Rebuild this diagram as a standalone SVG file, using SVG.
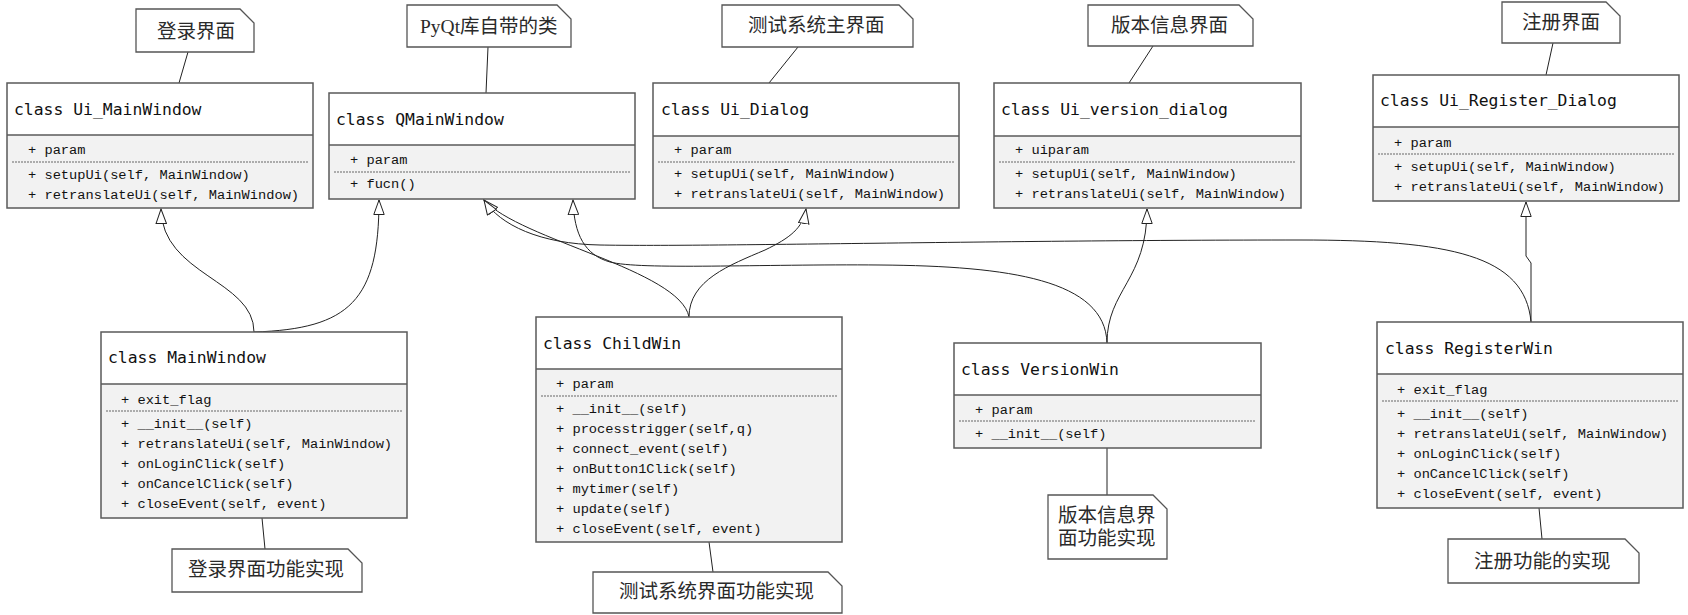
<svg xmlns="http://www.w3.org/2000/svg" width="1688" height="615" viewBox="0 0 1688 615">
<defs>
<marker id="gen" markerWidth="16" markerHeight="12" refX="15" refY="6" orient="auto" markerUnits="userSpaceOnUse" viewBox="0 0 16 12">
<path d="M0.5,0.8 L15,6 L0.5,11.2 Z" fill="#fff" stroke="#222" stroke-width="1"/>
</marker>
<style>
.hd{fill:#fff;stroke:none}
.bd{fill:#f2f2f2;stroke:none}
.fr{fill:none;stroke:#5a5a5a;stroke-width:1.5}
.dv{stroke:#5a5a5a;stroke-width:1.5}
.ds{stroke:#666;stroke-width:1;stroke-dasharray:2,1}
.tt{font-family:"DejaVu Sans Mono","Liberation Mono",monospace;font-size:16.4px;fill:#111}
.mb{font-family:"Liberation Mono","DejaVu Sans Mono",monospace;font-size:13.7px;fill:#111}
.nt{fill:#fff;stroke:#555;stroke-width:1.3}
.ntx{font-family:"Liberation Serif","Noto Sans CJK SC",serif;font-size:19.5px;fill:#2a2a2a}
.ln{fill:none;stroke:#222;stroke-width:1}
.gn{fill:none;stroke:#222;stroke-width:1;marker-end:url(#gen)}
</style>
</defs>
<rect width="1688" height="615" fill="#fff"/>

<g id="connectors">
<line class="ln" x1="188" y1="52" x2="179" y2="83"/>
<line class="ln" x1="488" y1="47" x2="486" y2="93"/>
<line class="ln" x1="798" y1="47" x2="769" y2="83"/>
<line class="ln" x1="1153" y1="46" x2="1129" y2="83"/>
<line class="ln" x1="1553" y1="43" x2="1546" y2="75"/>
<line class="ln" x1="262" y1="518" x2="265" y2="549"/>
<line class="ln" x1="709" y1="542" x2="713" y2="572"/>
<line class="ln" x1="1107" y1="448" x2="1107" y2="495"/>
<line class="ln" x1="1539" y1="508" x2="1542" y2="539"/>
<path class="gn" d="M254,332 C254,280 162,275 161,209"/>
<path class="gn" d="M254,332 C350,329 379,300 379,200"/>
<path class="gn" d="M689,317 C680,270 520,240 484,200"/>
<path class="gn" d="M1531,322 C1525,255 1450,240 1300,240 C1000,240 700,247 600,245 C540,244 500,225 484,200"/>
<path class="gn" d="M1107,343 C1105,280 1010,266 880,265 C760,264 640,270 610,262 C585,255 574,235 573,200"/>
<path class="gn" d="M689,317 C689,280 730,265 765,250 C790,238 803,228 806,209"/>
<path class="gn" d="M1107,343 C1107,290 1147,280 1147,209"/>
<path class="gn" d="M1531,322 L1531,263 L1526,256 L1526,202"/>
</g>

<g id="Ui_MainWindow">
<rect class="hd" x="7" y="83" width="306" height="52"/>
<rect class="bd" x="7" y="135" width="306" height="73"/>
<rect class="fr" x="7" y="83" width="306" height="125"/>
<line class="dv" x1="7" y1="135" x2="313" y2="135"/>
<line class="ds" x1="12" y1="162" x2="308" y2="162"/>
<text class="tt" x="14" y="115">class Ui_MainWindow</text>
<text class="mb" x="28" y="154">+ param</text>
<text class="mb" x="28" y="179">+ setupUi(self, MainWindow)</text>
<text class="mb" x="28" y="199">+ retranslateUi(self, MainWindow)</text>
</g>

<g id="QMainWindow">
<rect class="hd" x="329" y="93" width="306" height="52"/>
<rect class="bd" x="329" y="145" width="306" height="54"/>
<rect class="fr" x="329" y="93" width="306" height="106"/>
<line class="dv" x1="329" y1="145" x2="635" y2="145"/>
<line class="ds" x1="334" y1="172" x2="630" y2="172"/>
<text class="tt" x="336" y="125">class QMainWindow</text>
<text class="mb" x="350" y="164">+ param</text>
<text class="mb" x="350" y="188">+ fucn()</text>
</g>

<g id="Ui_Dialog">
<rect class="hd" x="653" y="83" width="306" height="53"/>
<rect class="bd" x="653" y="136" width="306" height="72"/>
<rect class="fr" x="653" y="83" width="306" height="125"/>
<line class="dv" x1="653" y1="136" x2="959" y2="136"/>
<line class="ds" x1="658" y1="162" x2="954" y2="162"/>
<text class="tt" x="661" y="115">class Ui_Dialog</text>
<text class="mb" x="674" y="154">+ param</text>
<text class="mb" x="674" y="178">+ setupUi(self, MainWindow)</text>
<text class="mb" x="674" y="198">+ retranslateUi(self, MainWindow)</text>
</g>

<g id="Ui_version_dialog">
<rect class="hd" x="994" y="83" width="307" height="53"/>
<rect class="bd" x="994" y="136" width="307" height="72"/>
<rect class="fr" x="994" y="83" width="307" height="125"/>
<line class="dv" x1="994" y1="136" x2="1301" y2="136"/>
<line class="ds" x1="999" y1="162" x2="1296" y2="162"/>
<text class="tt" x="1001" y="115">class Ui_version_dialog</text>
<text class="mb" x="1015" y="154">+ uiparam</text>
<text class="mb" x="1015" y="178">+ setupUi(self, MainWindow)</text>
<text class="mb" x="1015" y="198">+ retranslateUi(self, MainWindow)</text>
</g>

<g id="Ui_Register_Dialog">
<rect class="hd" x="1373" y="75" width="306" height="52"/>
<rect class="bd" x="1373" y="127" width="306" height="74"/>
<rect class="fr" x="1373" y="75" width="306" height="126"/>
<line class="dv" x1="1373" y1="127" x2="1679" y2="127"/>
<line class="ds" x1="1378" y1="154" x2="1674" y2="154"/>
<text class="tt" x="1380" y="106">class Ui_Register_Dialog</text>
<text class="mb" x="1394" y="147">+ param</text>
<text class="mb" x="1394" y="171">+ setupUi(self, MainWindow)</text>
<text class="mb" x="1394" y="191">+ retranslateUi(self, MainWindow)</text>
</g>

<g id="MainWindow">
<rect class="hd" x="101" y="332" width="306" height="52"/>
<rect class="bd" x="101" y="384" width="306" height="134"/>
<rect class="fr" x="101" y="332" width="306" height="186"/>
<line class="dv" x1="101" y1="384" x2="407" y2="384"/>
<line class="ds" x1="106" y1="411" x2="402" y2="411"/>
<text class="tt" x="108" y="363">class MainWindow</text>
<text class="mb" x="121" y="404">+ exit_flag</text>
<text class="mb" x="121" y="428">+ __init__(self)</text>
<text class="mb" x="121" y="448">+ retranslateUi(self, MainWindow)</text>
<text class="mb" x="121" y="468">+ onLoginClick(self)</text>
<text class="mb" x="121" y="488">+ onCancelClick(self)</text>
<text class="mb" x="121" y="508">+ closeEvent(self, event)</text>
</g>

<g id="ChildWin">
<rect class="hd" x="536" y="317" width="306" height="52"/>
<rect class="bd" x="536" y="369" width="306" height="173"/>
<rect class="fr" x="536" y="317" width="306" height="225"/>
<line class="dv" x1="536" y1="369" x2="842" y2="369"/>
<line class="ds" x1="541" y1="396" x2="837" y2="396"/>
<text class="tt" x="543" y="349">class ChildWin</text>
<text class="mb" x="556" y="388">+ param</text>
<text class="mb" x="556" y="413">+ __init__(self)</text>
<text class="mb" x="556" y="433">+ processtrigger(self,q)</text>
<text class="mb" x="556" y="453">+ connect_event(self)</text>
<text class="mb" x="556" y="473">+ onButton1Click(self)</text>
<text class="mb" x="556" y="493">+ mytimer(self)</text>
<text class="mb" x="556" y="513">+ update(self)</text>
<text class="mb" x="556" y="533">+ closeEvent(self, event)</text>
</g>

<g id="VersionWin">
<rect class="hd" x="954" y="343" width="307" height="52"/>
<rect class="bd" x="954" y="395" width="307" height="53"/>
<rect class="fr" x="954" y="343" width="307" height="105"/>
<line class="dv" x1="954" y1="395" x2="1261" y2="395"/>
<line class="ds" x1="959" y1="421" x2="1256" y2="421"/>
<text class="tt" x="961" y="375">class VersionWin</text>
<text class="mb" x="975" y="414">+ param</text>
<text class="mb" x="975" y="438">+ __init__(self)</text>
</g>

<g id="RegisterWin">
<rect class="hd" x="1377" y="322" width="306" height="52"/>
<rect class="bd" x="1377" y="374" width="306" height="134"/>
<rect class="fr" x="1377" y="322" width="306" height="186"/>
<line class="dv" x1="1377" y1="374" x2="1683" y2="374"/>
<line class="ds" x1="1382" y1="401" x2="1678" y2="401"/>
<text class="tt" x="1385" y="354">class RegisterWin</text>
<text class="mb" x="1397" y="394">+ exit_flag</text>
<text class="mb" x="1397" y="418">+ __init__(self)</text>
<text class="mb" x="1397" y="438">+ retranslateUi(self, MainWindow)</text>
<text class="mb" x="1397" y="458">+ onLoginClick(self)</text>
<text class="mb" x="1397" y="478">+ onCancelClick(self)</text>
<text class="mb" x="1397" y="498">+ closeEvent(self, event)</text>
</g>

<g id="note_login">
<path class="nt" d="M136,9 H240 L254,23 V52 H136 Z"/>
<text class="ntx" x="157" y="38">登录界面</text>
</g>
<g id="note_pyqt">
<path class="nt" d="M407,5 H557 L571,19 V47 H407 Z"/>
<text class="ntx" x="420" y="33">PyQt库自带的类</text>
</g>
<g id="note_test">
<path class="nt" d="M722,5 H899 L913,19 V47 H722 Z"/>
<text class="ntx" x="748" y="32">测试系统主界面</text>
</g>
<g id="note_version">
<path class="nt" d="M1088,5 H1239 L1253,19 V46 H1088 Z"/>
<text class="ntx" x="1111" y="32">版本信息界面</text>
</g>
<g id="note_register">
<path class="nt" d="M1502,2 H1606 L1620,16 V43 H1502 Z"/>
<text class="ntx" x="1522" y="29">注册界面</text>
</g>
<g id="note_login_impl">
<path class="nt" d="M172,549 H348 L362,563 V592 H172 Z"/>
<text class="ntx" x="188" y="576">登录界面功能实现</text>
</g>
<g id="note_test_impl">
<path class="nt" d="M593,572 H828 L842,586 V613 H593 Z"/>
<text class="ntx" x="619" y="598">测试系统界面功能实现</text>
</g>
<g id="note_version_impl">
<path class="nt" d="M1048,495 H1153 L1167,509 V559 H1048 Z"/>
<text class="ntx" x="1058" y="522">版本信息界</text>
<text class="ntx" x="1058" y="545">面功能实现</text>
</g>
<g id="note_register_impl">
<path class="nt" d="M1448,539 H1625 L1639,553 V583 H1448 Z"/>
<text class="ntx" x="1474" y="568">注册功能的实现</text>
</g>
</svg>
